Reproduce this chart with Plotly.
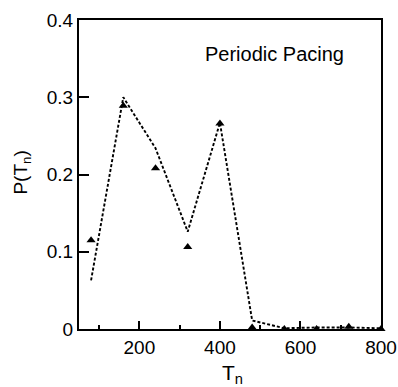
import plotly.graph_objects as go

periods = [80, 160, 240, 320, 400, 480, 560, 640, 720, 800]
p_measured = [0.115, 0.289, 0.208, 0.106, 0.266, 0.002, 0.0, 0.0, 0.003, 0.0]
p_model = [0.063, 0.300, 0.234, 0.126, 0.267, 0.011, 0.001, 0.002, 0.002, 0.001]

FONT = "Liberation Sans, Arial, Helvetica, sans-serif"

fig = go.Figure()
fig.add_trace(go.Scatter(
    x=periods, y=p_model, mode="lines",
    line=dict(color="black", width=1.9, dash="3px,2px"),
    showlegend=False, cliponaxis=False))
fig.add_trace(go.Scatter(
    x=periods, y=p_measured, mode="markers",
    marker=dict(symbol="triangle-up", size=8, color="black"),
    showlegend=False, cliponaxis=False))

fig.add_annotation(x=0.884, y=0.89, xref="paper", yref="paper",
                   text="Periodic Pacing", showarrow=False, xanchor="right",
                   yanchor="middle",
                   font=dict(family=FONT, size=20, color="black"))
fig.add_annotation(x=0.507, y=-0.145, xref="paper", yref="paper",
                   text="T<sub>n</sub>", showarrow=False, xanchor="center",
                   yanchor="middle",
                   font=dict(family=FONT, size=21, color="black"))
fig.add_annotation(x=-0.19, y=0.505, xref="paper", yref="paper",
                   text="P(T<sub>n</sub>)", showarrow=False, xanchor="center",
                   yanchor="middle", textangle=-90,
                   font=dict(family=FONT, size=19, color="black"))

fig.update_layout(
    width=398, height=387,
    margin=dict(l=79, r=17, t=20, b=58),
    paper_bgcolor="white", plot_bgcolor="white",
    font=dict(family=FONT, size=19, color="black"),
    xaxis=dict(range=[50, 800], tickvals=[200, 400, 600, 800],
               ticks="inside", ticklen=8, tickwidth=1.5, tickcolor="black",
               minor=dict(tickvals=[100, 300, 500, 700], ticks="inside",
                          ticklen=4, tickwidth=1.5, tickcolor="black"),
               showline=True, linewidth=2, linecolor="black", mirror=True,
               showgrid=False, zeroline=False, automargin=False),
    yaxis=dict(range=[0, 0.4], tickvals=[0, 0.1, 0.2, 0.3, 0.4],
               ticktext=["0", "0.1", "0.2", "0.3", "0.4"],
               ticks="inside", ticklen=10, tickwidth=1.5, tickcolor="black",
               showline=True, linewidth=2, linecolor="black", mirror=True,
               showgrid=False, zeroline=False, automargin=False),
)

fig.write_html("out.html")
